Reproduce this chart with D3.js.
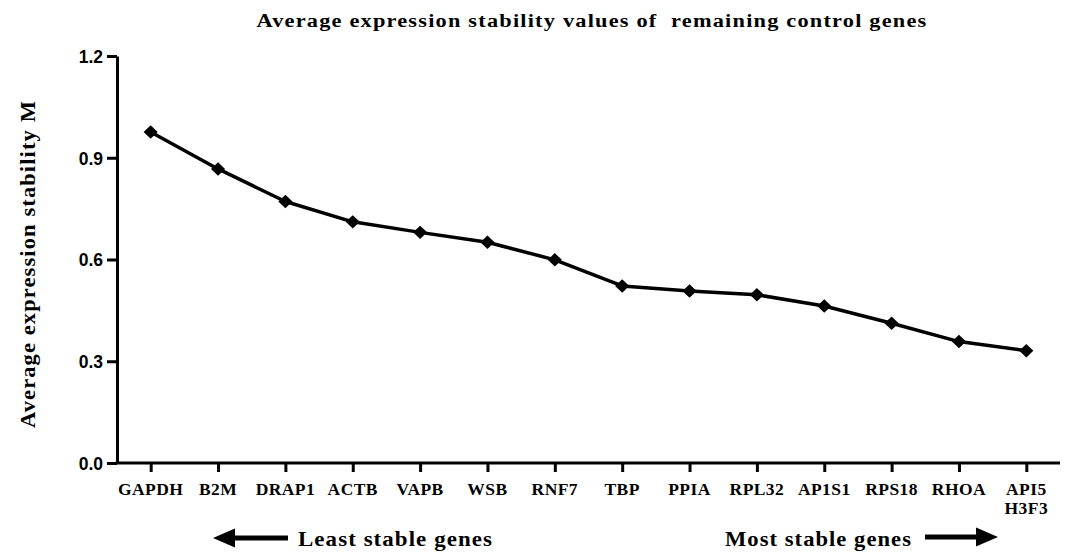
<!DOCTYPE html>
<html>
<head>
<meta charset="utf-8">
<script src="https://cdn.jsdelivr.net/npm/d3@7"></script>
<style>
  body { margin: 0; background: #fff; }
  svg { display: block; }
</style>
</head>
<body>
<div id="chart"></div>
<script>
// Chart data
const genes = ['GAPDH', 'B2M', 'DRAP1', 'ACTB', 'VAPB', 'WSB', 'RNF7', 'TBP',
               'PPIA', 'RPL32', 'AP1S1', 'RPS18', 'RHOA', 'API5\nH3F3'];
const stability = [0.976, 0.867, 0.771, 0.711, 0.680, 0.651, 0.599, 0.522,
                   0.507, 0.496, 0.463, 0.412, 0.358, 0.331];
const yTicks = [0.0, 0.3, 0.6, 0.9, 1.2];

const width = 1078, height = 552;
const margin = {top: 56, right: 18, bottom: 89, left: 117};
const serif = '"Liberation Serif", "Times New Roman", serif';

const svg = d3.select('#chart')
    .append('svg')
    .attr('width', width)
    .attr('height', height);

const x = d3.scalePoint()
    .domain(genes)
    .range([margin.left, width - margin.right])
    .padding(0.5);

const y = d3.scaleLinear()
    .domain([0, 1.2])
    .range([height - margin.bottom, margin.top]);

// stretch a text element to a given length (reference glyphs are wide)
function stretch(sel, len) {
    sel.attr('textLength', len).attr('lengthAdjust', 'spacingAndGlyphs');
}

// Title
svg.append('text')
    .attr('x', 592)
    .attr('y', 27)
    .attr('text-anchor', 'middle')
    .attr('xml:space', 'preserve')
    .style('font-family', serif)
    .style('font-weight', 'bold')
    .style('font-size', '18.5px')
    .style('letter-spacing', '1px')
    .text('Average expression stability values of  remaining control genes')
    .call(stretch, 671);

// Y axis
const yAxis = svg.append('g')
    .attr('transform', `translate(${margin.left},0)`)
    .call(d3.axisLeft(y).tickValues(yTicks).tickFormat(d3.format('.1f')).tickSize(10).tickSizeOuter(0));
yAxis.select('.domain').attr('stroke-width', 3).attr('stroke', '#000');
yAxis.selectAll('.tick line').attr('stroke-width', 3);
yAxis.selectAll('.tick text')
    .attr('x', -14)
    .attr('dy', '0.36em')
    .style('font-family', '"Liberation Sans", Arial, sans-serif')
    .style('font-weight', 'bold')
    .style('font-size', '17.5px')
    .attr('fill', '#000');

// X axis
const xAxis = svg.append('g')
    .attr('transform', `translate(0,${height - margin.bottom})`)
    .call(d3.axisBottom(x).tickSize(9).tickSizeOuter(0).tickFormat(''));
xAxis.select('.domain').attr('stroke-width', 3).attr('stroke', '#000')
    .attr('d', `M${margin.left - 1.5},0H${width - margin.right}`);
xAxis.selectAll('.tick line').attr('stroke-width', 3);

// X labels (second line for the last one)
const labelRows = [];
genes.forEach(g => g.split('\n').forEach((p, i) => labelRows.push({gene: g, text: p, row: i})));

svg.append('g')
    .selectAll('text')
    .data(labelRows)
    .enter()
    .append('text')
    .attr('x', d => x(d.gene))
    .attr('y', d => height - margin.bottom + 32 + d.row * 19)
    .attr('text-anchor', 'middle')
    .style('font-family', serif)
    .style('font-weight', 'bold')
    .style('font-size', '16.5px')
    .style('letter-spacing', '0.4px')
    .text(d => d.text)
    .each(function() {
        const len = this.getComputedTextLength();
        d3.select(this).call(stretch, len * 1.06);
    });

// Y axis label
svg.append('text')
    .attr('transform', `translate(35,264) rotate(-90)`)
    .attr('text-anchor', 'middle')
    .style('font-family', serif)
    .style('font-weight', 'bold')
    .style('font-size', '20px')
    .style('letter-spacing', '1px')
    .text('Average expression stability M')
    .call(stretch, 328);

// Line
const line = d3.line()
    .x((d, i) => x(genes[i]))
    .y(d => y(d));

svg.append('path')
    .datum(stability)
    .attr('fill', 'none')
    .attr('stroke', '#000')
    .attr('stroke-width', 3.5)
    .attr('stroke-linejoin', 'round')
    .attr('d', line);

// Diamond markers
svg.append('g')
    .selectAll('path')
    .data(stability)
    .enter()
    .append('path')
    .attr('d', d3.symbol().type(d3.symbolDiamond2).size(115))
    .attr('transform', (d, i) => `translate(${x(genes[i])},${y(d)}) scale(1.05,1)`)
    .attr('fill', '#000');

// Bottom annotations
function note(xx, txt, len) {
    svg.append('text')
        .attr('x', xx)
        .attr('y', 546)
        .style('font-family', serif)
        .style('font-weight', 'bold')
        .style('font-size', '21.5px')
        .style('letter-spacing', '1px')
        .text(txt)
        .call(stretch, len);
}
note(298, 'Least stable genes', 195);
note(725, 'Most stable genes', 187);

// Arrows
function arrow(x1, x2, yy) {
    const dir = x2 > x1 ? 1 : -1;
    const head = 22;
    svg.append('line')
        .attr('x1', x1).attr('x2', x2 - dir * head)
        .attr('y1', yy).attr('y2', yy)
        .attr('stroke', '#000')
        .attr('stroke-width', 5);
    svg.append('path')
        .attr('d', `M${x2},${yy} L${x2 - dir * head},${yy - 9.5} L${x2 - dir * head},${yy + 9.5} Z`)
        .attr('fill', '#000');
}
arrow(288, 213, 538);
arrow(925, 998, 537);
</script>
</body>
</html>
